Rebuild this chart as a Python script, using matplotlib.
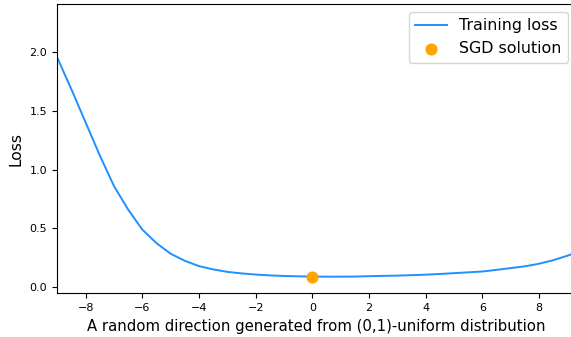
import numpy as np
import matplotlib
matplotlib.use("Agg")
import matplotlib.pyplot as plt

# loss along a random direction, sampled every 0.5
alpha = np.arange(-9.0, 9.51, 0.5)
loss = [1.95, 1.68, 1.40, 1.12, 0.86, 0.66, 0.49, 0.375, 0.285, 0.225,
        0.18, 0.152, 0.131, 0.118, 0.108, 0.101, 0.096, 0.093, 0.091,
        0.09, 0.09, 0.091, 0.094, 0.097, 0.099, 0.103, 0.107, 0.113,
        0.12, 0.127, 0.134, 0.148, 0.163, 0.178, 0.2, 0.23, 0.268, 0.31]
sgd_x = [0.0]
sgd_y = [0.091]

fig = plt.figure(figsize=(5.71, 3.37), dpi=100)
ax = fig.add_axes([0.0993, 0.1297, 0.9093, 0.8583])

ax.plot(alpha, loss, color="dodgerblue", lw=1.4, label="Training loss")
ax.scatter(sgd_x, sgd_y, color="orange", s=60, zorder=3, label="SGD solution")

ax.set_xlim(-9.02, 9.3)
ax.set_ylim(-0.051, 2.405)
ax.set_xticks(np.arange(-8, 9, 2))
ax.set_yticks([0.0, 0.5, 1.0, 1.5, 2.0])
ax.tick_params(labelsize=8)
ax.set_xlabel("A random direction generated from (0,1)-uniform distribution", fontsize=10.7)
ax.set_ylabel("Loss", fontsize=11.2)
ax.legend(loc="upper right", fontsize=11.4)

fig.savefig("out.png", dpi=100)
